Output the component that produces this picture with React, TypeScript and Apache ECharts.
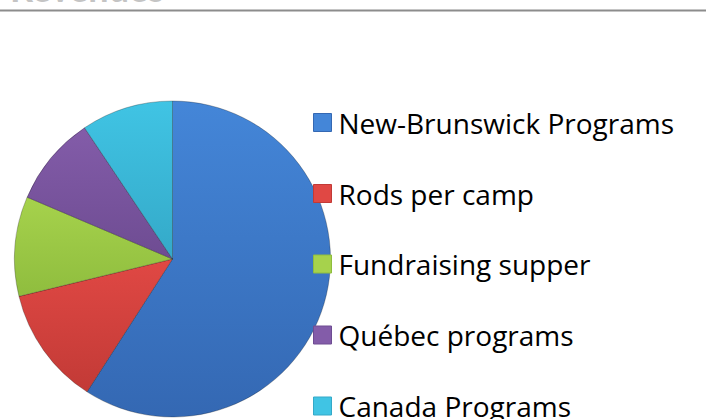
import React, { useEffect, useRef } from "react";
import * as echarts from "echarts";

const categories = [
  "New-Brunswick Programs",
  "Rods per camp",
  "Fundraising supper",
  "Québec programs",
  "Canada Programs",
];
const values = [59.1, 12.1, 10.2, 9.2, 9.4];
const topColors = ["#4486d8", "#e04844", "#a6d24c", "#835ca9", "#40c4e4"];
const bottomColors = ["#3468b3", "#c23a36", "#8fbd3e", "#6e4c92", "#34a9c8"];
const legendRowCenters = [122.5, 193.5, 264, 335, 406];
const titleText = "Revenues";

export default function App() {
  const ref = useRef<HTMLDivElement>(null);
  useEffect(() => {
    if (!ref.current) return;
    const chart = echarts.init(ref.current, null, { renderer: "svg" });
    const data = categories.map((name, i) => ({
      name,
      value: values[i],
      itemStyle: {
        color: {
          type: "linear",
          x: 0,
          y: 0,
          x2: 0,
          y2: 1,
          colorStops: [
            { offset: 0, color: topColors[i] },
            { offset: 1, color: bottomColors[i] },
          ],
        },
      },
    }));
    const legends = categories.map((name, i) => ({
      orient: "vertical",
      left: 313,
      top: legendRowCenters[i] - 14,
      padding: 0,
      itemWidth: 18,
      itemHeight: 18,
      itemGap: 0,
      icon: "rect",
      data: [
        {
          name,
          itemStyle: { color: topColors[i], borderColor: bottomColors[i], borderWidth: 1 },
        },
      ],
      textStyle: {
        fontFamily: "Open Sans",
        fontSize: 28,
        lineHeight: 28,
        color: "#000000",
        padding: [0, 0, 0, 2],
      },
    }));
    chart.setOption({
      animation: false,
      backgroundColor: "#ffffff",
      graphic: [
        {
          type: "text",
          x: 10,
          y: -12,
          style: {
            text: titleText,
            font: "bold 36px Lato",
            fill: "#c4c4c4",
            verticalAlign: "middle",
          },
        },
        {
          type: "line",
          shape: { x1: 0, y1: 10.5, x2: 706, y2: 10.5 },
          style: { stroke: "#8c8c8c", lineWidth: 2 },
        },
      ],
      legend: legends,
      series: [
        {
          type: "pie",
          center: [172.5, 259],
          radius: 158,
          startAngle: 90,
          clockwise: true,
          label: { show: false },
          labelLine: { show: false },
          emphasis: { disabled: true },
          itemStyle: { borderColor: "rgba(0,0,0,0.25)", borderWidth: 1 },
          data,
        },
      ],
    });
    return () => chart.dispose();
  }, []);
  return (
    <div
      ref={ref}
      style={{ position: "fixed", left: 0, top: 0, width: 706, height: 419 }}
    />
  );
}
